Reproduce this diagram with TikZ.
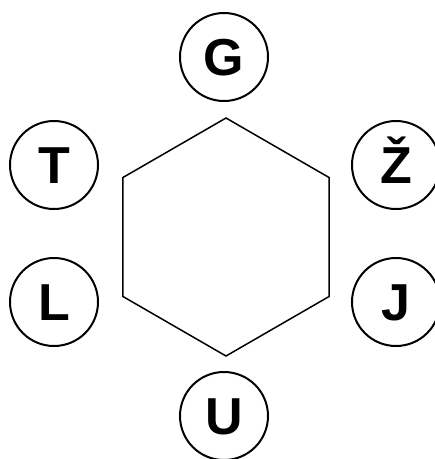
\documentclass[tikz,border=0pt]{standalone}
\usepackage{fontspec}
\setmainfont{Liberation Sans}
\usetikzlibrary{shapes.geometric}
\begin{document}
\begin{tikzpicture}[x=1pt,y=-1pt,
  letter/.style={draw, circle, line width=2pt, minimum size=88pt, inner sep=0pt,
    font=\fontsize{52}{60}\selectfont\bfseries, text height=37.5pt, text depth=0pt},
  hexa/.style={draw, regular polygon, regular polygon sides=6, shape border rotate=30,
    minimum size=238pt, inner sep=0pt, line width=1.5pt}]
\useasboundingbox (0,0) rectangle (435,459);
\node[hexa] (hex) at (226,237) {};
\node[letter] (g) at (224,57) {G};
\node[letter] (t) at (54,165) {T};
\node[letter] (z) at (396,165) {Ž};
\node[letter] (l) at (54,302) {L};
\node[letter] (j) at (396,302) {J};
\node[letter] (u) at (224,416) {U};
\end{tikzpicture}
\end{document}
